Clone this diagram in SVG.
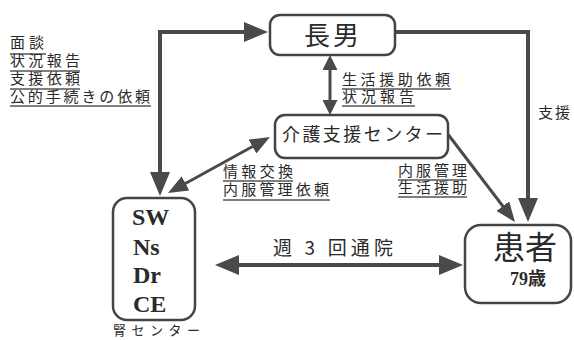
<svg xmlns="http://www.w3.org/2000/svg" width="574" height="340" viewBox="0 0 574 340">
<style>
.box{fill:#fff;stroke:#444;stroke-width:2.5}
.ln{fill:none;stroke:#4a4a4a;stroke-width:4}
.ln2{fill:none;stroke:#4a4a4a;stroke-width:3}
.jp{font-family:"Noto Sans CJK JP","Noto Sans",sans-serif;fill:#2a2a2a}
.lb{font-family:"Liberation Sans","Noto Sans CJK JP",sans-serif;font-size:15px;fill:#2a2a2a}
.sf{font-family:"Liberation Serif","Noto Sans CJK JP",serif;font-weight:bold;fill:#2a2a2a}
.ul{stroke:#555;stroke-width:1.5}
</style>
<defs>
<marker id="ah" markerUnits="userSpaceOnUse" markerWidth="24" markerHeight="20" refX="14" refY="10" orient="auto-start-reverse" viewBox="0 0 24 20"><path d="M0,0 L24,10 L0,20 z" fill="#4a4a4a"/></marker>
<marker id="as" markerUnits="userSpaceOnUse" markerWidth="20" markerHeight="16" refX="10" refY="8" orient="auto-start-reverse" viewBox="0 0 20 16"><path d="M0,0 L20,8 L0,16 z" fill="#4a4a4a"/></marker>
<marker id="av" markerUnits="userSpaceOnUse" markerWidth="15" markerHeight="15" refX="6" refY="7.5" orient="auto-start-reverse" viewBox="0 0 15 15"><path d="M0,0 L15,7.5 L0,15 z" fill="#4a4a4a"/></marker>
</defs>

<g id="connectors">
<path class="ln" d="M160,186 V32 H258" marker-start="url(#ah)" marker-end="url(#ah)"/>
<path class="ln" d="M395,32 H528 V212" marker-end="url(#ah)"/>
<path class="ln2" d="M330,64 V106" marker-start="url(#av)" marker-end="url(#av)"/>
<path class="ln2" d="M447,133 L508.9,214.1" marker-end="url(#as)"/>
<path class="ln2" d="M176.8,188.2 L261.2,141.8" marker-start="url(#as)" marker-end="url(#as)"/>
<path class="ln" d="M225,265 H453" marker-start="url(#ah)" marker-end="url(#ah)"/>
</g>

<g id="labels">
<text class="lb" x="10" y="48" textLength="34" lengthAdjust="spacing">面談</text>
<line class="ul" x1="10" y1="54" x2="46" y2="54"/>
<text class="lb" x="10" y="66" textLength="70" lengthAdjust="spacing">状況報告</text>
<line class="ul" x1="10" y1="71" x2="80" y2="71"/>
<text class="lb" x="10" y="84" textLength="70" lengthAdjust="spacing">支援依頼</text>
<line class="ul" x1="10" y1="89" x2="80" y2="89"/>
<text class="lb" x="10" y="102" textLength="140" lengthAdjust="spacing">公的手続きの依頼</text>
<line class="ul" x1="10" y1="106" x2="151" y2="106"/>

<text class="lb" x="342" y="85" textLength="108" lengthAdjust="spacing">生活援助依頼</text>
<line class="ul" x1="342" y1="89" x2="451" y2="89"/>
<text class="lb" x="342" y="102" textLength="72" lengthAdjust="spacing">状況報告</text>
<line class="ul" x1="342" y1="106" x2="415" y2="106"/>

<text class="lb" x="538" y="118" font-size="14" textLength="32" lengthAdjust="spacing">支援</text>

<text class="lb" x="223" y="177" textLength="70" lengthAdjust="spacing">情報交換</text>
<line class="ul" x1="223" y1="181" x2="293" y2="181"/>
<text class="lb" x="223" y="195" textLength="106" lengthAdjust="spacing">内服管理依頼</text>
<line class="ul" x1="223" y1="200" x2="330" y2="200"/>

<text class="lb" x="398" y="176" textLength="69" lengthAdjust="spacing">内服管理</text>
<line class="ul" x1="398" y1="180" x2="467" y2="180"/>
<text class="lb" x="398" y="193" textLength="69" lengthAdjust="spacing">生活援助</text>
<line class="ul" x1="398" y1="197" x2="467" y2="197"/>

<text class="jp" x="273" y="255" font-size="19" textLength="120" lengthAdjust="spacing">週 3 回通院</text>
</g>

<g id="chonan">
<rect class="box" x="270" y="15" width="125" height="40" rx="10"/>
<text class="jp" x="333" y="45" font-size="26" text-anchor="middle" letter-spacing="3">長男</text>
</g>

<g id="kaigo">
<rect class="box" x="275" y="115" width="173" height="43" rx="10"/>
<text class="jp" x="282" y="141" font-size="18" textLength="161" lengthAdjust="spacing">介護支援センター</text>
</g>

<g id="jin">
<rect class="box" x="113" y="198" width="82" height="122" rx="14"/>
<text class="sf" x="132" y="225" font-size="24">SW</text>
<text class="sf" x="133" y="255" font-size="24">Ns</text>
<text class="sf" x="133" y="283" font-size="24">Dr</text>
<text class="sf" x="133" y="312" font-size="24">CE</text>
<text class="jp" x="113" y="335" font-size="13" textLength="87" lengthAdjust="spacing">腎センター</text>
</g>

<g id="kanja">
<rect class="box" x="465" y="225" width="106" height="78" rx="16"/>
<text class="jp" x="525" y="259" font-size="32" text-anchor="middle">患者</text>
<text class="sf" x="510" y="285" font-size="18">79歳</text>
</g>
</svg>
